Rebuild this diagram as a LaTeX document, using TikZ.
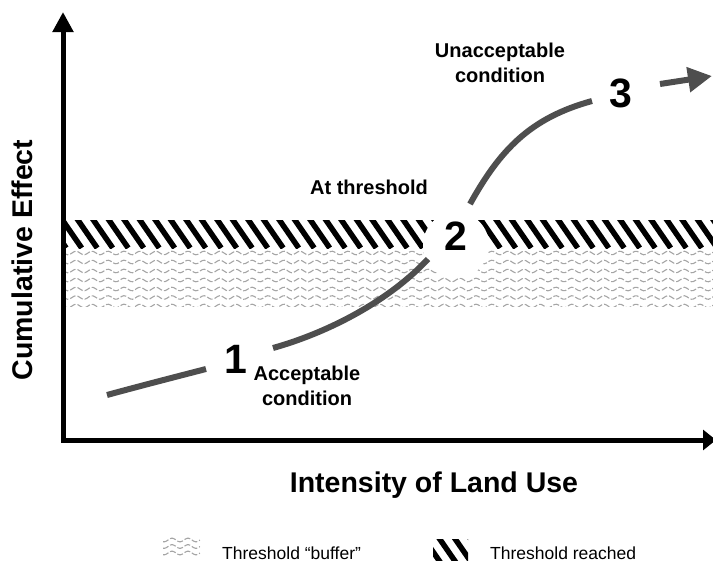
\documentclass[tikz,border=0pt]{standalone}
\usepackage{fontspec}
\setmainfont{Liberation Sans}
\usetikzlibrary{arrows.meta}
\definecolor{curvecol}{RGB}{78,78,78}
\definecolor{wavecol}{RGB}{165,165,165}
\begin{document}
\begin{tikzpicture}[x=1pt,y=-1pt,
  axisline/.style={line width=5pt,black,line join=miter},
  curveline/.style={line width=6pt,curvecol},
  hatchline/.style={line width=5.5pt,black},
  waveline/.style={line width=1.1pt,wavecol,dash pattern=on 6pt off 2pt},
  lbl/.style={font=\fontsize{20}{25}\selectfont\bfseries,align=center,inner sep=0pt},
  num/.style={font=\fontsize{41}{44}\selectfont\bfseries,inner sep=0pt},
  bigtitle/.style={font=\fontsize{28.5}{32}\selectfont\bfseries,inner sep=0pt},
  leg/.style={font=\fontsize{17.5}{20}\selectfont,anchor=west,inner sep=0pt}]
\useasboundingbox (0,0) rectangle (713,568);
% threshold reached band
\begin{scope}
  \clip (63,220) rectangle (713,248);
  \foreach \i in {0,...,44}
    \draw[hatchline] ({40+\i*15.5},210) -- ++(26.2,38);
\end{scope}
% buffer band
\begin{scope}
  \clip (63,249) rectangle (713,306);
  \foreach \r in {253,262,271,280,289,297.5,306}
    \draw[waveline] plot[domain=63:713,samples=300] (\x,{\r+1.8*sin(\x*22.5)});
\end{scope}
% white disc behind 2
\fill[white] (456,245) circle (33);
% axes
\coordinate (ytop) at (63,12);
\coordinate (O) at (63,440);
\coordinate (xend) at (716,440);
\draw[axisline,{Triangle[length=20pt,width=20pt]}-{Triangle[length=13pt,width=20pt]}] (ytop) -- (O) -- (xend);
% curve
\coordinate (a1) at (107,395);
\coordinate (a2) at (206,369);
\coordinate (b1) at (273,348);
\coordinate (b2) at (428,259);
\coordinate (c1) at (470,204);
\coordinate (c2) at (592,101);
\coordinate (d1) at (660,84);
\coordinate (d2) at (712,76);
\draw[curveline] (a1) .. controls (140,386) and (175,377) .. (a2);
\draw[curveline] (b1) .. controls (330,332) and (390,300) .. (b2);
\draw[curveline] (c1) .. controls (500,150) and (530,118) .. (c2);
\draw[curveline,-{Triangle[length=24pt,width=24pt]}] (d1) -- (d2);
% numbers
\node[num] (n1) at (236,359) {1};
\node[num] (n2) at (456,236) {2};
\node[num] (n3) at (621,93) {3};
% labels
\node[lbl] (acc) at (307,386) {Acceptable\\condition};
\node[lbl] (thr) at (369,187) {At threshold};
\node[lbl] (unacc) at (500,63) {Unacceptable\\condition};
\node[bigtitle,rotate=90] (ylab) at (22,260) {Cumulative Effect};
\node[bigtitle] (xlab) at (434,485) {Intensity of Land Use};
% legend
\begin{scope}
  \clip (163,537) rectangle (200,556);
  \foreach \r in {540,546.5,553}
    \draw[waveline] plot[domain=163:200,samples=60] (\x,{\r+1.8*sin(\x*22.5)});
\end{scope}
\node[leg] (legbuf) at (222,553) {Threshold “buffer”};
\begin{scope}
  \clip (433,539) rectangle (468,560);
  \foreach \i in {0,...,3}
    \draw[hatchline] ({418+\i*15.5},530) -- ++(27.6,40);
\end{scope}
\node[leg] (legthr) at (490,553) {Threshold reached};
\end{tikzpicture}
\end{document}
